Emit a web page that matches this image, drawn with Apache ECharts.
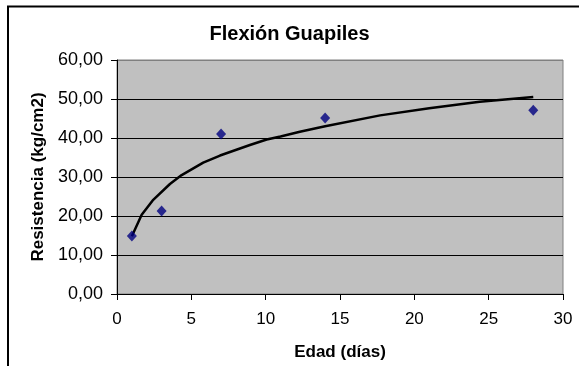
<!DOCTYPE html>
<html>
<head>
<meta charset="utf-8">
<script src="https://cdn.jsdelivr.net/npm/echarts@6/dist/echarts.min.js"></script>
<style>
html,body{margin:0;padding:0;background:#fff;}
#c{width:579px;height:366px;}
</style>
</head>
<body>
<div id="c"></div>
<script>
// Measured points
const ages = [1, 3, 7, 14, 28];
const strengths = [14.9, 21.3, 41.0, 45.1, 47.1];
// Trend curve
const trendX = [1, 1.66, 2.4, 3.56, 4.35, 5.8, 6.93, 8.94, 10.07, 11, 12.3, 14, 17.7, 21, 24.4, 28];
const trendY = [14.8, 20.3, 24.0, 28.2, 30.5, 33.7, 35.5, 38.2, 39.6, 40.4, 41.6, 43.0, 45.8, 47.6, 49.3, 50.5];
const titleText = 'Flexión Guapiles';
const xName = 'Edad (días)';
const yName = 'Resistencia (kg/cm2)';

const pts = ages.map((a, i) => [a, strengths[i]]);
const trend = trendX.map((x, i) => [x, trendY[i]]);
const font = '"Liberation Sans", Arial, sans-serif';

const chart = echarts.init(document.getElementById('c'));
chart.setOption({
  animation: false,
  backgroundColor: '#fff',
  title: {
    text: titleText, left: 'center', top: 19,
    textStyle: {fontFamily: font, fontSize: 20, fontWeight: 'bold', color: '#000'}
  },
  graphic: [{
    type: 'polyline', z: 100,
    shape: {points: [[8, 380], [8, 6.5], [590, 6.5]]},
    style: {fill: 'none', stroke: '#000', lineWidth: 2}
  }],
  grid: {left: 117, right: 16, top: 60, bottom: 69, show: true,
    backgroundColor: '#C0C0C0', borderColor: '#808080', borderWidth: 1},
  xAxis: {
    type: 'value', min: 0, max: 30, interval: 5,
    name: xName, nameLocation: 'middle', nameGap: 50,
    nameTextStyle: {fontFamily: font, fontSize: 17, fontWeight: 'bold', color: '#000'},
    axisLine: {show: true, lineStyle: {color: '#000', width: 1}},
    axisTick: {show: true, length: 6, lineStyle: {color: '#000'}},
    axisLabel: {fontFamily: font, fontSize: 17, color: '#000', margin: 17},
    splitLine: {show: false}
  },
  yAxis: {
    type: 'value', min: 0, max: 60, interval: 10,
    name: yName, nameLocation: 'middle', nameGap: 70,
    nameTextStyle: {fontFamily: font, fontSize: 17, fontWeight: 'bold', color: '#000'},
    axisLine: {show: true, lineStyle: {color: '#000', width: 1}},
    axisTick: {show: true, length: 6, lineStyle: {color: '#000'}},
    axisLabel: {fontFamily: font, fontSize: 18, color: '#000', margin: 14,
      formatter: v => v.toFixed(2).replace('.', ',')},
    splitLine: {show: true, lineStyle: {color: ['#000','#000','#000','#000','#000','#000','#808080'], width: 1}}
  },
  series: [
    {type: 'line', data: trend, showSymbol: false, symbol: 'none',
      lineStyle: {color: '#000', width: 2.5}, z: 3},
    {type: 'scatter', data: pts, symbol: 'diamond', symbolSize: [10, 11],
      itemStyle: {color: '#000080'}, z: 4}
  ]
});
</script>
</body>
</html>
